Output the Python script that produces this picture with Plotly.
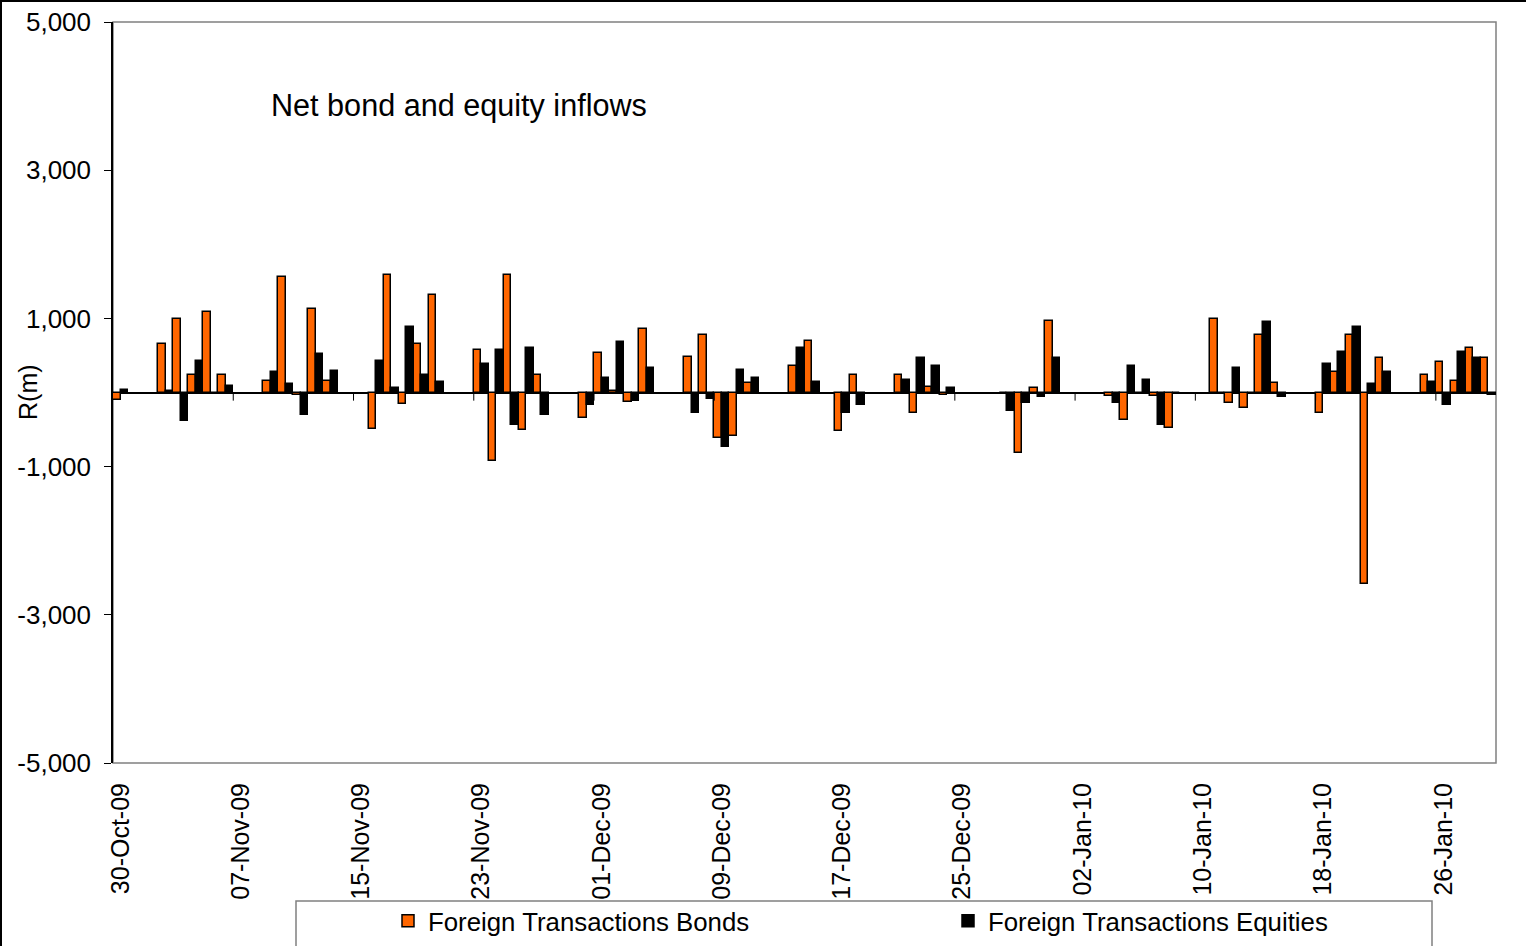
import pandas as pd
import plotly.graph_objects as go

# Daily net foreign transactions, R millions
dates = [
    "2009-10-30", "2009-11-02", "2009-11-03", "2009-11-04", "2009-11-05", "2009-11-06",
    "2009-11-09", "2009-11-10", "2009-11-11", "2009-11-12", "2009-11-13",
    "2009-11-16", "2009-11-17", "2009-11-18", "2009-11-19", "2009-11-20",
    "2009-11-23", "2009-11-24", "2009-11-25", "2009-11-26", "2009-11-27",
    "2009-11-30", "2009-12-01", "2009-12-02", "2009-12-03", "2009-12-04",
    "2009-12-07", "2009-12-08", "2009-12-09", "2009-12-10", "2009-12-11",
    "2009-12-14", "2009-12-15", "2009-12-17", "2009-12-18",
    "2009-12-21", "2009-12-22", "2009-12-23", "2009-12-24",
    "2009-12-28", "2009-12-29", "2009-12-30", "2009-12-31",
    "2010-01-04", "2010-01-05", "2010-01-06", "2010-01-07", "2010-01-08",
    "2010-01-11", "2010-01-12", "2010-01-13", "2010-01-14", "2010-01-15",
    "2010-01-18", "2010-01-19", "2010-01-20", "2010-01-21", "2010-01-22",
    "2010-01-25", "2010-01-26", "2010-01-27", "2010-01-28", "2010-01-29",
]
bonds = [
    -100, 650, 990, 240, 1080, 240,
    160, 1560, -30, 1125, 160,
    -490, 1590, -160, 650, 1315,
    570, -920, 1590, -510, 240,
    -350, 530, 15, -130, 860,
    480, 780, -615, -590, 130,
    355, 700, -515, 240,
    240, -270, 70, -30,
    0, -810, 60, 970,
    -50, -375, -25, -45, -485,
    995, -135, -215, 780, 135,
    -270, 270, 780, -2580, 460,
    240, 405, 160, 595, 460,
]
equities = [
    30, 25, -385, 430, 0, 85,
    270, 110, -300, 515, 295,
    430, 55, 890, 230, 140,
    380, 570, -435, 595, -300,
    -165, 195, 675, -110, 325,
    -275, -90, -735, 300, 195,
    605, 140, -275, -165,
    165, 465, 355, 55,
    -255, -145, -65, 465,
    -140, 355, 165, -435, 0,
    0, 325, 0, 945, -55,
    380, 545, 890, 110, 275,
    140, -165, 545, 465, -30,
]

# Axis settings
y_ticks = [-5000, -3000, -1000, 1000, 3000, 5000]
y_tick_labels = ["-5,000", "-3,000", "-1,000", "1,000", "3,000", "5,000"]
x_start, x_end = "2009-10-29 12:00", "2010-01-29 12:00"
tick_dates = pd.date_range("2009-10-30", periods=12, freq="8D")

FONT = "Liberation Sans, Arial, sans-serif"
W, H = 1526, 946
L, R, T, B = 113, 30, 22, 183
plot_w, plot_h = W - L - R, H - T - B


def px_x(px):
    return (px - L) / plot_w


def px_y(py):
    return (H - B - py) / plot_h


fig = go.Figure()
fig.add_trace(go.Bar(
    x=dates, y=bonds, name="Foreign Transactions Bonds", legend="legend",
    marker=dict(color="#FF6600", line=dict(color="black", width=1.5)),
))
fig.add_trace(go.Bar(
    x=dates, y=equities, name="Foreign Transactions Equities", legend="legend2",
    marker=dict(color="black", line=dict(color="black", width=1.5)),
))

shapes = []
# plot-area frame
shapes.append(dict(type="rect", xref="paper", yref="paper", x0=0, x1=1, y0=0, y1=1,
                   line=dict(color="#808080", width=1.5), layer="below"))
# category tick marks on the zero axis, between day slots
for d in tick_dates[1:]:
    xb = d - pd.Timedelta(hours=12)
    shapes.append(dict(type="line", xref="x", yref="y", x0=xb, x1=xb, y0=0, y1=-110,
                       line=dict(color="black", width=1)))
# legend frame
shapes.append(dict(type="rect", xref="paper", yref="paper",
                   x0=px_x(296), x1=px_x(1432), y0=px_y(960), y1=px_y(901),
                   line=dict(color="#808080", width=1.5)))
# outer chart border (left and top)
shapes.append(dict(type="line", xref="paper", yref="paper",
                   x0=px_x(1), x1=px_x(1), y0=px_y(960), y1=px_y(0),
                   line=dict(color="black", width=2)))
shapes.append(dict(type="line", xref="paper", yref="paper",
                   x0=px_x(0), x1=px_x(1530), y0=px_y(1), y1=px_y(1),
                   line=dict(color="black", width=2)))

legend_style = dict(
    orientation="h", xanchor="left", y=px_y(921), yanchor="middle",
    font=dict(size=25.8, family=FONT), bgcolor="rgba(0,0,0,0)", borderwidth=0,
    itemwidth=30,
)

fig.update_layout(
    width=W, height=H,
    margin=dict(l=L, r=R, t=T, b=B, autoexpand=False),
    paper_bgcolor="white", plot_bgcolor="white",
    font=dict(family=FONT, color="black"),
    barmode="group", bargap=0, bargroupgap=0,
    shapes=shapes,
    showlegend=True,
    legend=dict(x=px_x(388), **legend_style),
    legend2=dict(x=px_x(948), **legend_style),
    annotations=[
        dict(text="Net bond and equity inflows", xref="paper", yref="paper",
             x=px_x(269), y=px_y(106), xanchor="left", yanchor="middle",
             showarrow=False, font=dict(size=30.6, family=FONT)),
        dict(text="R(m)", xref="paper", yref="paper", x=px_x(28), y=px_y(392),
             xanchor="center", yanchor="middle", textangle=-90,
             showarrow=False, font=dict(size=25, family=FONT)),
    ],
)

fig.update_xaxes(
    type="date", range=[x_start, x_end],
    tickmode="linear", tick0=tick_dates[0], dtick=8 * 86400000,
    tickformat="%d-%b-%y", tickangle=-90, ticks="",
    tickfont=dict(size=25, family=FONT),
    showline=False, showgrid=False, zeroline=False,
    ticklabelstandoff=14,
)
fig.update_yaxes(
    range=[-5000, 5000], tickmode="array", tickvals=y_ticks, ticktext=y_tick_labels,
    ticks="outside", ticklen=7, tickcolor="black", tickwidth=1,
    tickfont=dict(size=26, family=FONT),
    showline=True, linecolor="black", linewidth=1.5,
    showgrid=False, zeroline=True, zerolinecolor="black", zerolinewidth=1.5,
    ticklabelstandoff=8,
)

fig.write_html("out.html")
